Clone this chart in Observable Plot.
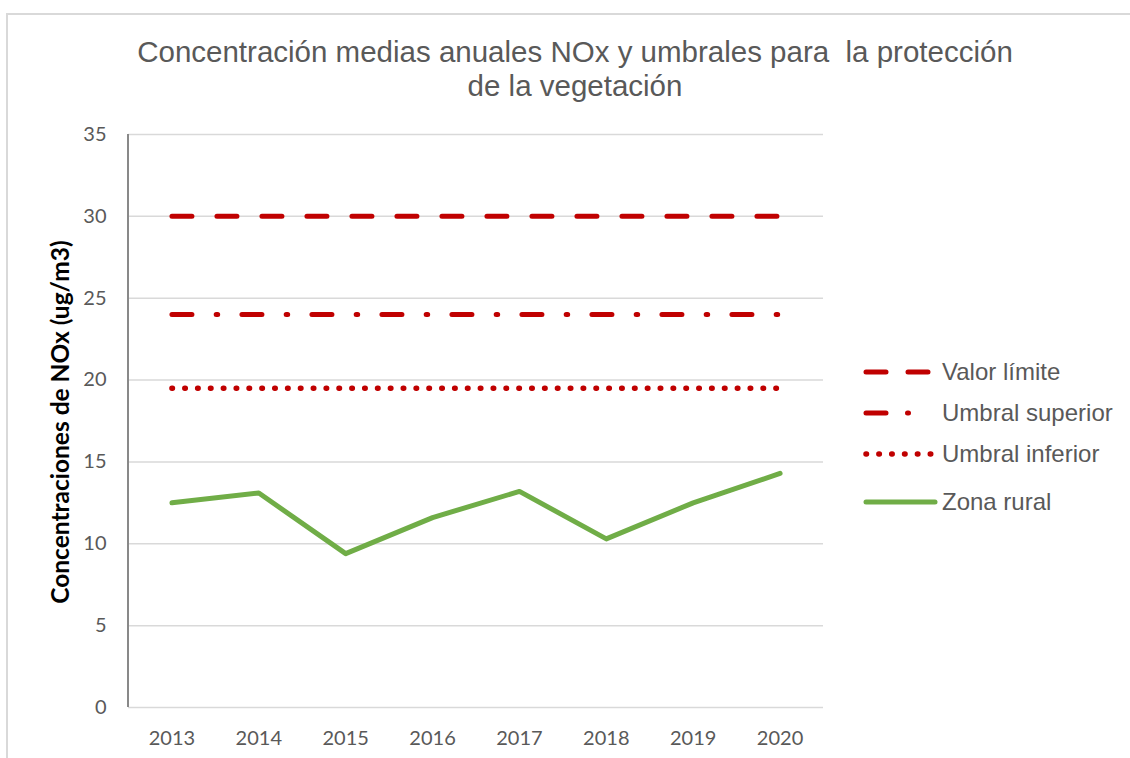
<!DOCTYPE html>
<html>
<head>
<meta charset="utf-8">
<script src="https://cdn.jsdelivr.net/npm/d3@7"></script>
<script src="https://cdn.jsdelivr.net/npm/@observablehq/plot@0.6"></script>
<style>
  html, body { margin: 0; padding: 0; background: #fff; }
  #wrap { position: relative; width: 1130px; height: 758px; overflow: hidden; background: #fff; }
  #frame { position: absolute; left: 6px; top: 13px; right: -5px; bottom: -5px; border-left: 2px solid #d9d9d9; border-top: 2px solid #d9d9d9; }
  #chart { position: absolute; left: 0; top: 0; }
  #title { position: absolute; left: 0; top: 35px; width: 1150px; text-align: center; font-family: "Liberation Sans", Arial, sans-serif; font-size: 29.5px; line-height: 34px; color: #595959; white-space: pre; }
  #ylabel { position: absolute; left: -190px; top: 407px; width: 500px; height: 30px; line-height: 30px; text-align: center; transform: rotate(-90deg); font-family: Lato, sans-serif; font-weight: bold; font-size: 24.5px; color: #000; white-space: nowrap; }
  .leg { position: absolute; left: 862px; height: 28px; display: flex; align-items: center; font-family: "Liberation Sans", Arial, sans-serif; font-size: 24px; color: #595959; white-space: nowrap; }
  .leg svg { margin-right: 4px; }
</style>
</head>
<body>
<div id="wrap">
  <div id="frame"></div>
  <div id="chart"></div>
  <div id="title"></div>
  <div id="ylabel"></div>
  <div id="legend"></div>
</div>
<script>
const titleLines = ["Concentración medias anuales NOx y umbrales para  la protección", "de la vegetación"];
const yLabel = "Concentraciones de NOx (ug/m3)";
const years = [2013, 2014, 2015, 2016, 2017, 2018, 2019, 2020];
const valorLimite = [30, 30, 30, 30, 30, 30, 30, 30];
const umbralSuperior = [24, 24, 24, 24, 24, 24, 24, 24];
const umbralInferior = [19.5, 19.5, 19.5, 19.5, 19.5, 19.5, 19.5, 19.5];
const zonaRural = [12.5, 13.1, 9.4, 11.6, 13.2, 10.3, 12.5, 14.3];
const yTicks = [0, 5, 10, 15, 20, 25, 30, 35];
const seriesNames = ["Valor límite", "Umbral superior", "Umbral inferior", "Zona rural"];

const red = "#c00000";
const green = "#70ad47";
const styles = [
  {stroke: red, strokeWidth: 5, dash: "20,25"},
  {stroke: red, strokeWidth: 5, dash: "20,24.25,1.5,24.25"},
  {stroke: red, strokeWidth: 5.5, dash: "0.5,12.35"},
  {stroke: green, strokeWidth: 5, dash: null}
];
const seriesValues = [valorLimite, umbralSuperior, umbralInferior, zonaRural];
const rows = (vals) => years.map((year, i) => ({year, value: vals[i]}));

document.getElementById("title").textContent = titleLines.join("\n");
document.getElementById("ylabel").textContent = yLabel;

const axisLine = (index, scales, values, dims) => {
  const ns = "http://www.w3.org/2000/svg";
  const l = document.createElementNS(ns, "line");
  const x = dims.marginLeft;
  l.setAttribute("x1", x); l.setAttribute("x2", x);
  l.setAttribute("y1", dims.marginTop); l.setAttribute("y2", dims.height - dims.marginBottom);
  l.setAttribute("stroke", "#898989"); l.setAttribute("stroke-width", 2);
  return l;
};

const plot = Plot.plot({
  width: 1130,
  height: 758,
  marginLeft: 128,
  marginRight: 307,
  marginTop: 134,
  marginBottom: 51,
  style: {color: "#595959", fontFamily: "Lato, sans-serif", fontSize: "20px", background: "transparent"},
  x: {type: "point", domain: years, padding: 0.5, round: false},
  y: {domain: [0, 35]},
  marks: [
    Plot.gridY(yTicks, {stroke: "#d9d9d9", strokeOpacity: 1, strokeWidth: 1.5}),
    axisLine,
    Plot.axisY(yTicks, {tickSize: 0, tickPadding: 22, fontSize: 20, label: null}),
    Plot.axisX(years, {tickSize: 0, tickPadding: 23, fontSize: 20, label: null, tickFormat: d => `${d}`}),
    ...seriesValues.map((vals, k) => Plot.line(rows(vals), {
      x: "year", y: "value",
      stroke: styles[k].stroke, strokeWidth: styles[k].strokeWidth,
      strokeLinecap: "round", strokeLinejoin: "round",
      strokeDasharray: styles[k].dash || undefined
    }))
  ]
});
document.getElementById("chart").appendChild(plot);

// legend
const legendTops = [358, 399, 440, 488];
const legend = document.getElementById("legend");
seriesNames.forEach((name, k) => {
  const row = document.createElement("div");
  row.className = "leg";
  row.style.top = legendTops[k] + "px";
  const s = styles[k];
  row.innerHTML = `<svg width="76" height="12"><line x1="4" x2="${k === 3 ? 73 : 72}" y1="6" y2="6" stroke="${s.stroke}" stroke-width="${s.strokeWidth}" stroke-linecap="round" ${s.dash ? `stroke-dasharray="${k === 0 ? '20,22' : k === 1 ? '20,21.5,1,30' : s.dash}"` : ""}/></svg><span>${name}</span>`;
  legend.appendChild(row);
});
</script>
</body>
</html>
